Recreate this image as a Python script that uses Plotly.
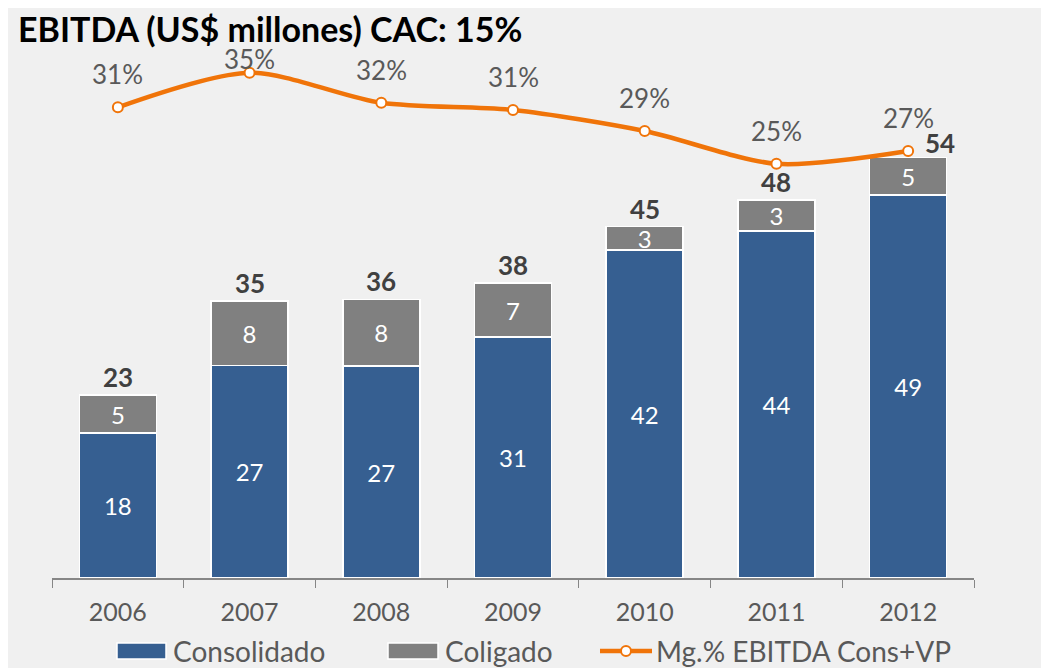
import plotly.graph_objects as go

years = ["2006", "2007", "2008", "2009", "2010", "2011", "2012"]
consolidado = [18.5, 27.1, 27.0, 30.7, 41.8, 44.2, 48.8]
coligado = [4.8, 8.2, 8.5, 6.9, 3.0, 4.0, 4.8]
cons_labels = ["18", "27", "27", "31", "42", "44", "49"]
colig_labels = ["5", "8", "8", "7", "3", "3", "5"]
totales = ["23", "35", "36", "38", "45", "48", "54"]
margen = [31.2, 35.0, 31.7, 30.9, 28.6, 25.0, 26.4]
margen_labels = ["31%", "35%", "32%", "31%", "29%", "25%", "27%"]

FONT = "Lato, Open Sans, sans-serif"
BLUE = "#365F91"
GRAY = "#808080"
ORANGE = "#F07409"
TXT = "#595959"

# la página añade 8px de margen al body: se trabaja en coordenadas de la figura
OFF = 8
W, H = 1049 - OFF, 668 - OFF
L, R, T, B = 44, 75, 42, 90


def px(x):
    # x en píxeles de la imagen -> fracción del área de trazado
    return (x - OFF - L) / (W - L - R)


def py(y):
    return (H - B - (y - OFF)) / (H - T - B)


fig = go.Figure()
fig.add_trace(go.Bar(
    x=years, y=consolidado, name="Consolidado",
    marker=dict(color=BLUE, line=dict(color="white", width=1.5)),
    text=cons_labels, textposition="inside", insidetextanchor="middle", textangle=0,
    textfont=dict(color="white", size=24, family=FONT),
))
fig.add_trace(go.Bar(
    x=years, y=coligado, name="Coligado",
    marker=dict(color=GRAY, line=dict(color="white", width=1.5)),
    text=colig_labels, textposition="inside", insidetextanchor="middle", textangle=0,
    textfont=dict(color="white", size=24, family=FONT),
))
fig.add_trace(go.Scatter(
    x=years, y=margen, name="Mg.% EBITDA Cons+VP", yaxis="y2",
    mode="lines+markers", line=dict(color=ORANGE, width=4.5, shape="spline", smoothing=0.8),
    marker=dict(symbol="circle", size=10, color="white", line=dict(color=ORANGE, width=2)),
))

# totales sobre las barras (el último se corre a la derecha de la línea)
last = len(years) - 1
for i, t in enumerate(totales):
    top = consolidado[i] + coligado[i]
    fig.add_annotation(
        x=i, y=top, text=f"<b>{t}</b>", showarrow=False, yanchor="bottom",
        xshift=32 if i == last else 0, yshift=-4 if i == last else 0,
        font=dict(size=26, color="#404040", family=FONT),
    )

# etiquetas de margen (la de 2007 queda más pegada, bajo el título)
for i, (m, lab) in enumerate(zip(margen, margen_labels)):
    fig.add_annotation(
        x=i, y=m, yref="y2", text=lab, showarrow=False, yanchor="middle",
        yshift=14 if m == max(margen) else 33,
        font=dict(size=26, color=TXT, family=FONT),
    )

# leyenda dibujada a mano (muestras anchas como en el original)
ly = 651
fig.add_shape(type="rect", xref="paper", yref="paper", x0=px(117), x1=px(166),
              y0=py(659), y1=py(643), fillcolor=BLUE, line=dict(color="white", width=1.5))
fig.add_shape(type="rect", xref="paper", yref="paper", x0=px(388), x1=px(438),
              y0=py(659), y1=py(643), fillcolor=GRAY, line=dict(color="white", width=1.5))
fig.add_shape(type="line", xref="paper", yref="paper", x0=px(600), x1=px(652),
              y0=py(ly), y1=py(ly), line=dict(color=ORANGE, width=4.5))
fig.add_shape(type="circle", xref="paper", yref="paper", x0=px(621), x1=px(631),
              y0=py(656), y1=py(646), fillcolor="white", line=dict(color=ORANGE, width=2))
for x0, lab in [(171, "Consolidado"), (443, "Coligado"), (654, "Mg.% EBITDA Cons+VP")]:
    fig.add_annotation(x=px(x0), y=py(ly), xref="paper", yref="paper", text=lab,
                       showarrow=False, xanchor="left", yanchor="middle",
                       font=dict(size=28, color=TXT, family=FONT))

fig.update_layout(
    width=W, height=H,
    barmode="stack", bargap=0.415,
    paper_bgcolor="#F0F0F0", plot_bgcolor="#F0F0F0",
    margin=dict(l=L, r=R, t=T, b=B),
    font=dict(family=FONT, color=TXT),
    title=dict(
        text="<b>EBITDA (US$ millones) CAC: 15%</b>",
        x=10 / W, xref="container", xanchor="left",
        y=1 - 22 / H, yref="container", yanchor="middle",
        font=dict(size=34, color="black", family=FONT),
    ),
    xaxis=dict(
        type="category", range=[-0.5, 6.5],
        showline=True, linecolor="#868686", linewidth=1.5,
        ticks="outside", tickson="boundaries", ticklen=8, tickcolor="#868686",
        ticklabelstandoff=11,
        tickfont=dict(size=25, color=TXT), showgrid=False,
    ),
    yaxis=dict(range=[0, 67.3], visible=False, showgrid=False),
    yaxis2=dict(range=[-20.5, 37.5], overlaying="y", visible=False, showgrid=False),
    showlegend=False,
    uniformtext=dict(minsize=22, mode="show"),
)

fig.write_html("out.html")
